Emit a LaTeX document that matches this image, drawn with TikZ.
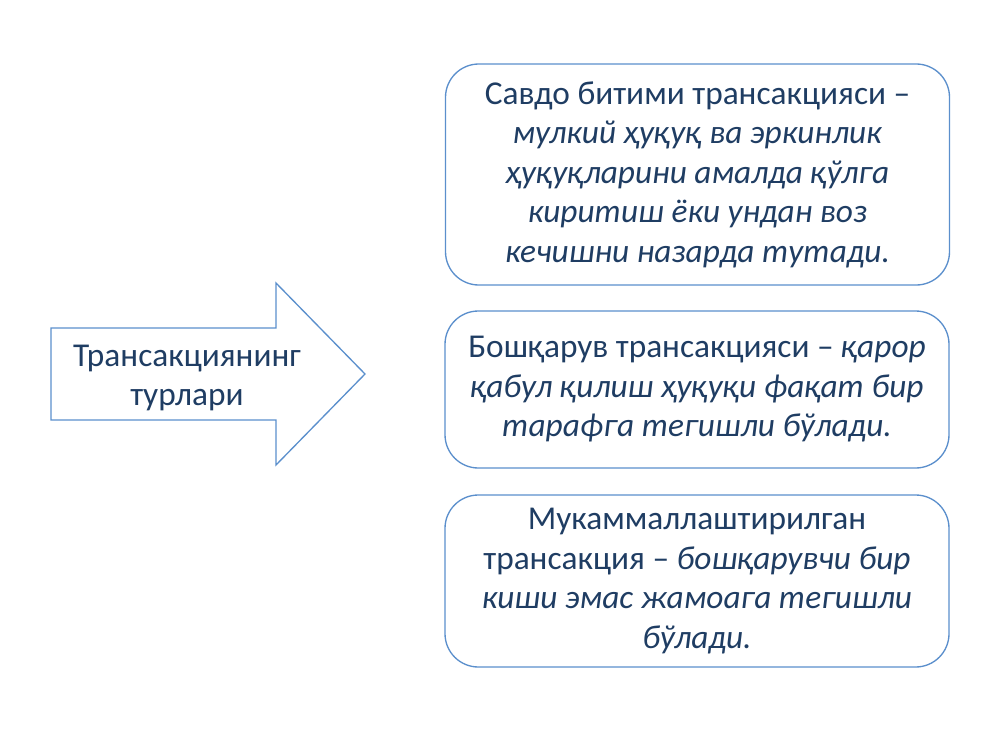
\documentclass[tikz,border=0pt]{standalone}
\usepackage{fontspec}
\setmainfont{Carlito}
\usepackage{tikz}
\definecolor{txtblue}{HTML}{1F3D63}
\definecolor{lineblue}{HTML}{5B8FCC}

\begin{document}
\begin{tikzpicture}[x=0.75pt,y=-0.75pt]
\tikzstyle{every node}+=[text=txtblue,font=\fontsize{25}{29.6}\selectfont,align=center]
\tikzstyle{typebox}=[draw=lineblue,line width=1pt,rounded corners=25pt,minimum width=378pt,inner sep=0pt]
\useasboundingbox (0,0) rectangle (1000,750);
% arrow on the left
\draw [lineblue,line width=1pt] (51,328) -- (276,328) -- (276,283) -- (365,374) -- (276,465) -- (276,420) -- (51,420) -- cycle;
\node (types) at (187,378) {Трансакциянинг\\турлари};
% three boxes on the right
\node [typebox,minimum height=165.75pt] (deal) at (697.5,174.5) {Савдо битими трансакцияси –\\\textit{мулкий ҳуқуқ ва эркинлик}\\\textit{ҳуқуқларини амалда қўлга}\\\textit{киритиш ёки ундан воз}\\\textit{кечишни назарда тутади.}};
\node [typebox,minimum height=117.75pt] (manage) at (697,389.5) {Бошқарув трансакцияси – \textit{қарор}\\\textit{қабул қилиш ҳуқуқи фақат бир}\\\textit{тарафга тегишли бўлади.}};
\node [typebox,minimum height=129pt] (ration) at (697,581) {Мукаммаллаштирилган\\трансакция – \textit{бошқарувчи бир}\\\textit{киши эмас жамоага тегишли}\\\textit{бўлади.}};
\end{tikzpicture}
\end{document}
